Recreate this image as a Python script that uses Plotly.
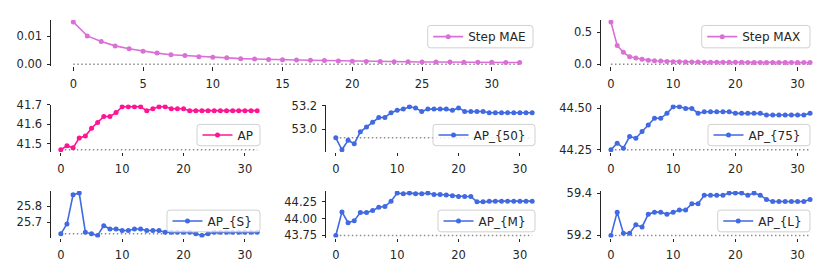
import plotly.graph_objects as go

# ---------------- data ----------------
steps = list(range(33))

step_mae = [0.0152, 0.0102, 0.0082, 0.0066, 0.0056, 0.0047, 0.0040, 0.0034, 0.0031,
            0.0027, 0.0025, 0.0023, 0.0020, 0.0019, 0.0017, 0.0016, 0.0015, 0.0014,
            0.0013, 0.0012, 0.0011, 0.0010, 0.0010, 0.0009, 0.0009, 0.0008, 0.0008,
            0.0008, 0.0007, 0.0007, 0.0007, 0.0006, 0.0006]
step_max = [0.655, 0.291, 0.184, 0.117, 0.097, 0.078, 0.063, 0.053, 0.049, 0.044,
            0.039, 0.037, 0.035, 0.034, 0.033, 0.032, 0.031, 0.031, 0.030, 0.030,
            0.029, 0.029, 0.028, 0.028, 0.028, 0.027, 0.027, 0.027, 0.026, 0.026,
            0.026, 0.026, 0.025]
ap = [41.47, 41.49, 41.48, 41.53, 41.54, 41.58, 41.61, 41.64, 41.64, 41.66,
      41.69, 41.69, 41.69, 41.69, 41.67, 41.68, 41.69, 41.69, 41.68, 41.68,
      41.68, 41.67, 41.67, 41.67, 41.67, 41.67, 41.67, 41.67, 41.67, 41.67,
      41.67, 41.67, 41.67]
ap_50 = [52.93, 52.83, 52.91, 52.88, 52.98, 53.02, 53.06, 53.10, 53.10, 53.14,
         53.16, 53.17, 53.19, 53.18, 53.15, 53.17, 53.17, 53.17, 53.17, 53.16,
         53.18, 53.15, 53.15, 53.15, 53.15, 53.14, 53.14, 53.14, 53.14, 53.14,
         53.14, 53.14, 53.14]
ap_75 = [44.25, 44.29, 44.26, 44.33, 44.32, 44.36, 44.40, 44.44, 44.44, 44.47,
         44.51, 44.51, 44.50, 44.50, 44.47, 44.48, 44.48, 44.48, 44.48, 44.48,
         44.47, 44.47, 44.47, 44.47, 44.47, 44.46, 44.46, 44.46, 44.46, 44.46,
         44.46, 44.46, 44.47]
ap_s = [25.63, 25.69, 25.87, 25.88, 25.64, 25.63, 25.62, 25.68, 25.66, 25.66,
        25.65, 25.65, 25.66, 25.66, 25.65, 25.65, 25.65, 25.64, 25.64, 25.64,
        25.64, 25.64, 25.63, 25.62, 25.63, 25.64, 25.64, 25.64, 25.64, 25.64,
        25.64, 25.64, 25.64]
ap_m = [43.75, 44.10, 43.94, 43.97, 44.09, 44.09, 44.12, 44.17, 44.18, 44.26,
        44.38, 44.37, 44.38, 44.37, 44.37, 44.38, 44.36, 44.36, 44.35, 44.34,
        44.33, 44.33, 44.33, 44.25, 44.25, 44.26, 44.26, 44.26, 44.26, 44.26,
        44.26, 44.26, 44.26]
ap_l = [59.20, 59.31, 59.21, 59.21, 59.25, 59.24, 59.30, 59.31, 59.31, 59.30,
        59.31, 59.32, 59.32, 59.35, 59.35, 59.39, 59.39, 59.39, 59.39, 59.40,
        59.40, 59.40, 59.39, 59.40, 59.39, 59.37, 59.36, 59.36, 59.36, 59.36,
        59.36, 59.36, 59.37]

labels = ["Step MAE", "Step MAX", "AP", "AP_{50}", "AP_{75}", "AP_{S}", "AP_{M}", "AP_{L}"]

xticks_wide = [0, 5, 10, 15, 20, 25, 30]
xticks_narrow = [0, 10, 20, 30]
yticks_mae = [0.00, 0.01]
yticks_max = [0.0, 0.5]
yticks_ap = [41.5, 41.6, 41.7]
yticks_ap50 = [53.0, 53.2]
yticks_ap75 = [44.25, 44.50]
yticks_aps = [25.7, 25.8]
yticks_apm = [43.75, 44.00, 44.25]
yticks_apl = [59.2, 59.4]

# ---------------- styling ----------------
W, H = 830, 277
ORCHID = "#DA70D6"
PINK = "#FF1493"
BLUE = "#4169E1"
TXT = "#262626"
FONT = "DejaVu Sans"
TICK_FS = 11.5
LEG_FS = 12

def fx(p):
    return p / W

def fy(p):
    return 1 - p / H

ROW = [(13.5, 62.0), (102.0, 151.5), (192.3, 241.0)]
COL = [(51.0, 267.0), (326.0, 542.0), (601.0, 820.0)]
LEG_Y = [(19.3, 42.7), (122.7, 145.0), (212.3, 235.0)]

panels = [
    dict(y=step_mae, base=0.0, color=ORCHID, xd=(51.0, 542.0), yd=ROW[0], xt=xticks_wide,
         yt=yticks_mae, fmt="{:.2f}", box=(427.7, 533.0) + LEG_Y[0]),
    dict(y=step_max, base=0.0, color=ORCHID, xd=COL[2], yd=ROW[0], xt=xticks_narrow,
         yt=yticks_max, fmt="{:.1f}", box=(701.7, 810.0) + LEG_Y[0]),
    dict(y=ap, base=ap[0], color=PINK, xd=COL[0], yd=ROW[1], xt=xticks_narrow,
         yt=yticks_ap, fmt="{:.1f}", box=(197.0, 260.0) + LEG_Y[1]),
    dict(y=ap_50, base=ap_50[0], color=BLUE, xd=COL[1], yd=ROW[1], xt=xticks_narrow,
         yt=yticks_ap50, fmt="{:.1f}", box=(433.0, 535.0) + LEG_Y[1]),
    dict(y=ap_75, base=ap_75[0], color=BLUE, xd=COL[2], yd=ROW[1], xt=xticks_narrow,
         yt=yticks_ap75, fmt="{:.2f}", box=(708.0, 810.0) + LEG_Y[1]),
    dict(y=ap_s, base=ap_s[0], color=BLUE, xd=COL[0], yd=ROW[2], xt=xticks_narrow,
         yt=yticks_aps, fmt="{:.1f}", box=(167.0, 260.0) + LEG_Y[2]),
    dict(y=ap_m, base=ap_m[0], color=BLUE, xd=COL[1], yd=ROW[2], xt=xticks_narrow,
         yt=yticks_apm, fmt="{:.2f}", box=(438.0, 535.0) + LEG_Y[2]),
    dict(y=ap_l, base=ap_l[0], color=BLUE, xd=COL[2], yd=ROW[2], xt=xticks_narrow,
         yt=yticks_apl, fmt="{:.1f}", box=(717.7, 810.0) + LEG_Y[2]),
]

def padded(lo, hi, m=0.05):
    d = hi - lo
    return [lo - m * d, hi + m * d]

def rounded_box(x0, x1, y0, y1, r=3.0):
    # pixel box -> paper-coordinate rounded rectangle path
    X = lambda v: "%.5f" % fx(v)
    Y = lambda v: "%.5f" % fy(v)
    return ("M {a},{b} L {c},{b} Q {d},{b} {d},{e} L {d},{f} Q {d},{g} {c},{g} "
            "L {a},{g} Q {h},{g} {h},{f} L {h},{e} Q {h},{b} {a},{b} Z").format(
        a=X(x0 + r), b=Y(y0), c=X(x1 - r), d=X(x1), e=Y(y0 + r),
        f=Y(y1 - r), g=Y(y1), h=X(x0))

fig = go.Figure()
shapes = []
layout = dict(
    width=W, height=H, autosize=False,
    margin=dict(l=0, r=0, t=0, b=0),
    paper_bgcolor="white", plot_bgcolor="white",
    font=dict(family=FONT, size=TICK_FS, color=TXT),
    showlegend=True,
)

for i, (p, name) in enumerate(zip(panels, labels), start=1):
    sfx = "" if i == 1 else str(i)
    xa, ya = "x" + sfx, "y" + sfx
    leg = "legend" + sfx
    # dotted baseline
    fig.add_trace(go.Scatter(
        x=steps, y=[p["base"]] * len(steps), mode="lines",
        line=dict(color="#8c8c8c", width=1.5, dash="1.5px,2.5px"),
        xaxis=xa, yaxis=ya, showlegend=False, hoverinfo="skip"))
    fig.add_trace(go.Scatter(
        x=steps, y=p["y"], mode="lines+markers", name=name,
        line=dict(color=p["color"], width=1.6),
        marker=dict(color=p["color"], size=5),
        xaxis=xa, yaxis=ya, legend=leg))
    lo = min(min(p["y"]), p["base"])
    hi = max(max(p["y"]), p["base"])
    layout["xaxis" + sfx] = dict(
        domain=[fx(p["xd"][0]), fx(p["xd"][1])], anchor=ya,
        range=padded(min(steps), max(steps)),
        showline=False, showgrid=False, zeroline=False,
        ticks="outside", ticklen=3.5, tickwidth=1, tickcolor=TXT,
        ticklabelstandoff=3,
        tickvals=p["xt"], ticktext=[str(v) for v in p["xt"]],
        tickfont=dict(family=FONT, size=TICK_FS, color=TXT), fixedrange=True)
    layout["yaxis" + sfx] = dict(
        domain=[fy(p["yd"][1]), fy(p["yd"][0])], anchor=xa,
        range=padded(lo, hi),
        showline=True, linecolor=TXT, linewidth=1, mirror=False,
        showgrid=False, zeroline=False,
        ticks="outside", ticklen=3.5, tickwidth=1, tickcolor=TXT,
        ticklabelstandoff=2,
        tickvals=p["yt"], ticktext=[p["fmt"].format(v) for v in p["yt"]],
        tickfont=dict(family=FONT, size=TICK_FS, color=TXT), fixedrange=True)
    bx0, bx1, by0, by1 = p["box"]
    shapes.append(dict(
        type="path", xref="paper", yref="paper", layer="above",
        path=rounded_box(bx0, bx1, by0, by1),
        fillcolor="rgba(255,255,255,0.8)", line=dict(color="#d0d0d0", width=1)))
    layout[leg] = dict(
        x=fx(bx0 + 0.5), xanchor="left",
        y=fy((by0 + by1) / 2), yanchor="middle",
        bgcolor="rgba(0,0,0,0)", borderwidth=0,
        font=dict(family=FONT, size=LEG_FS, color=TXT), itemwidth=30)

layout["shapes"] = shapes
fig.update_layout(**layout)
fig.write_html("out.html", config={"displayModeBar": False},
               post_script="document.body.style.margin='0';document.body.style.padding='0';")
